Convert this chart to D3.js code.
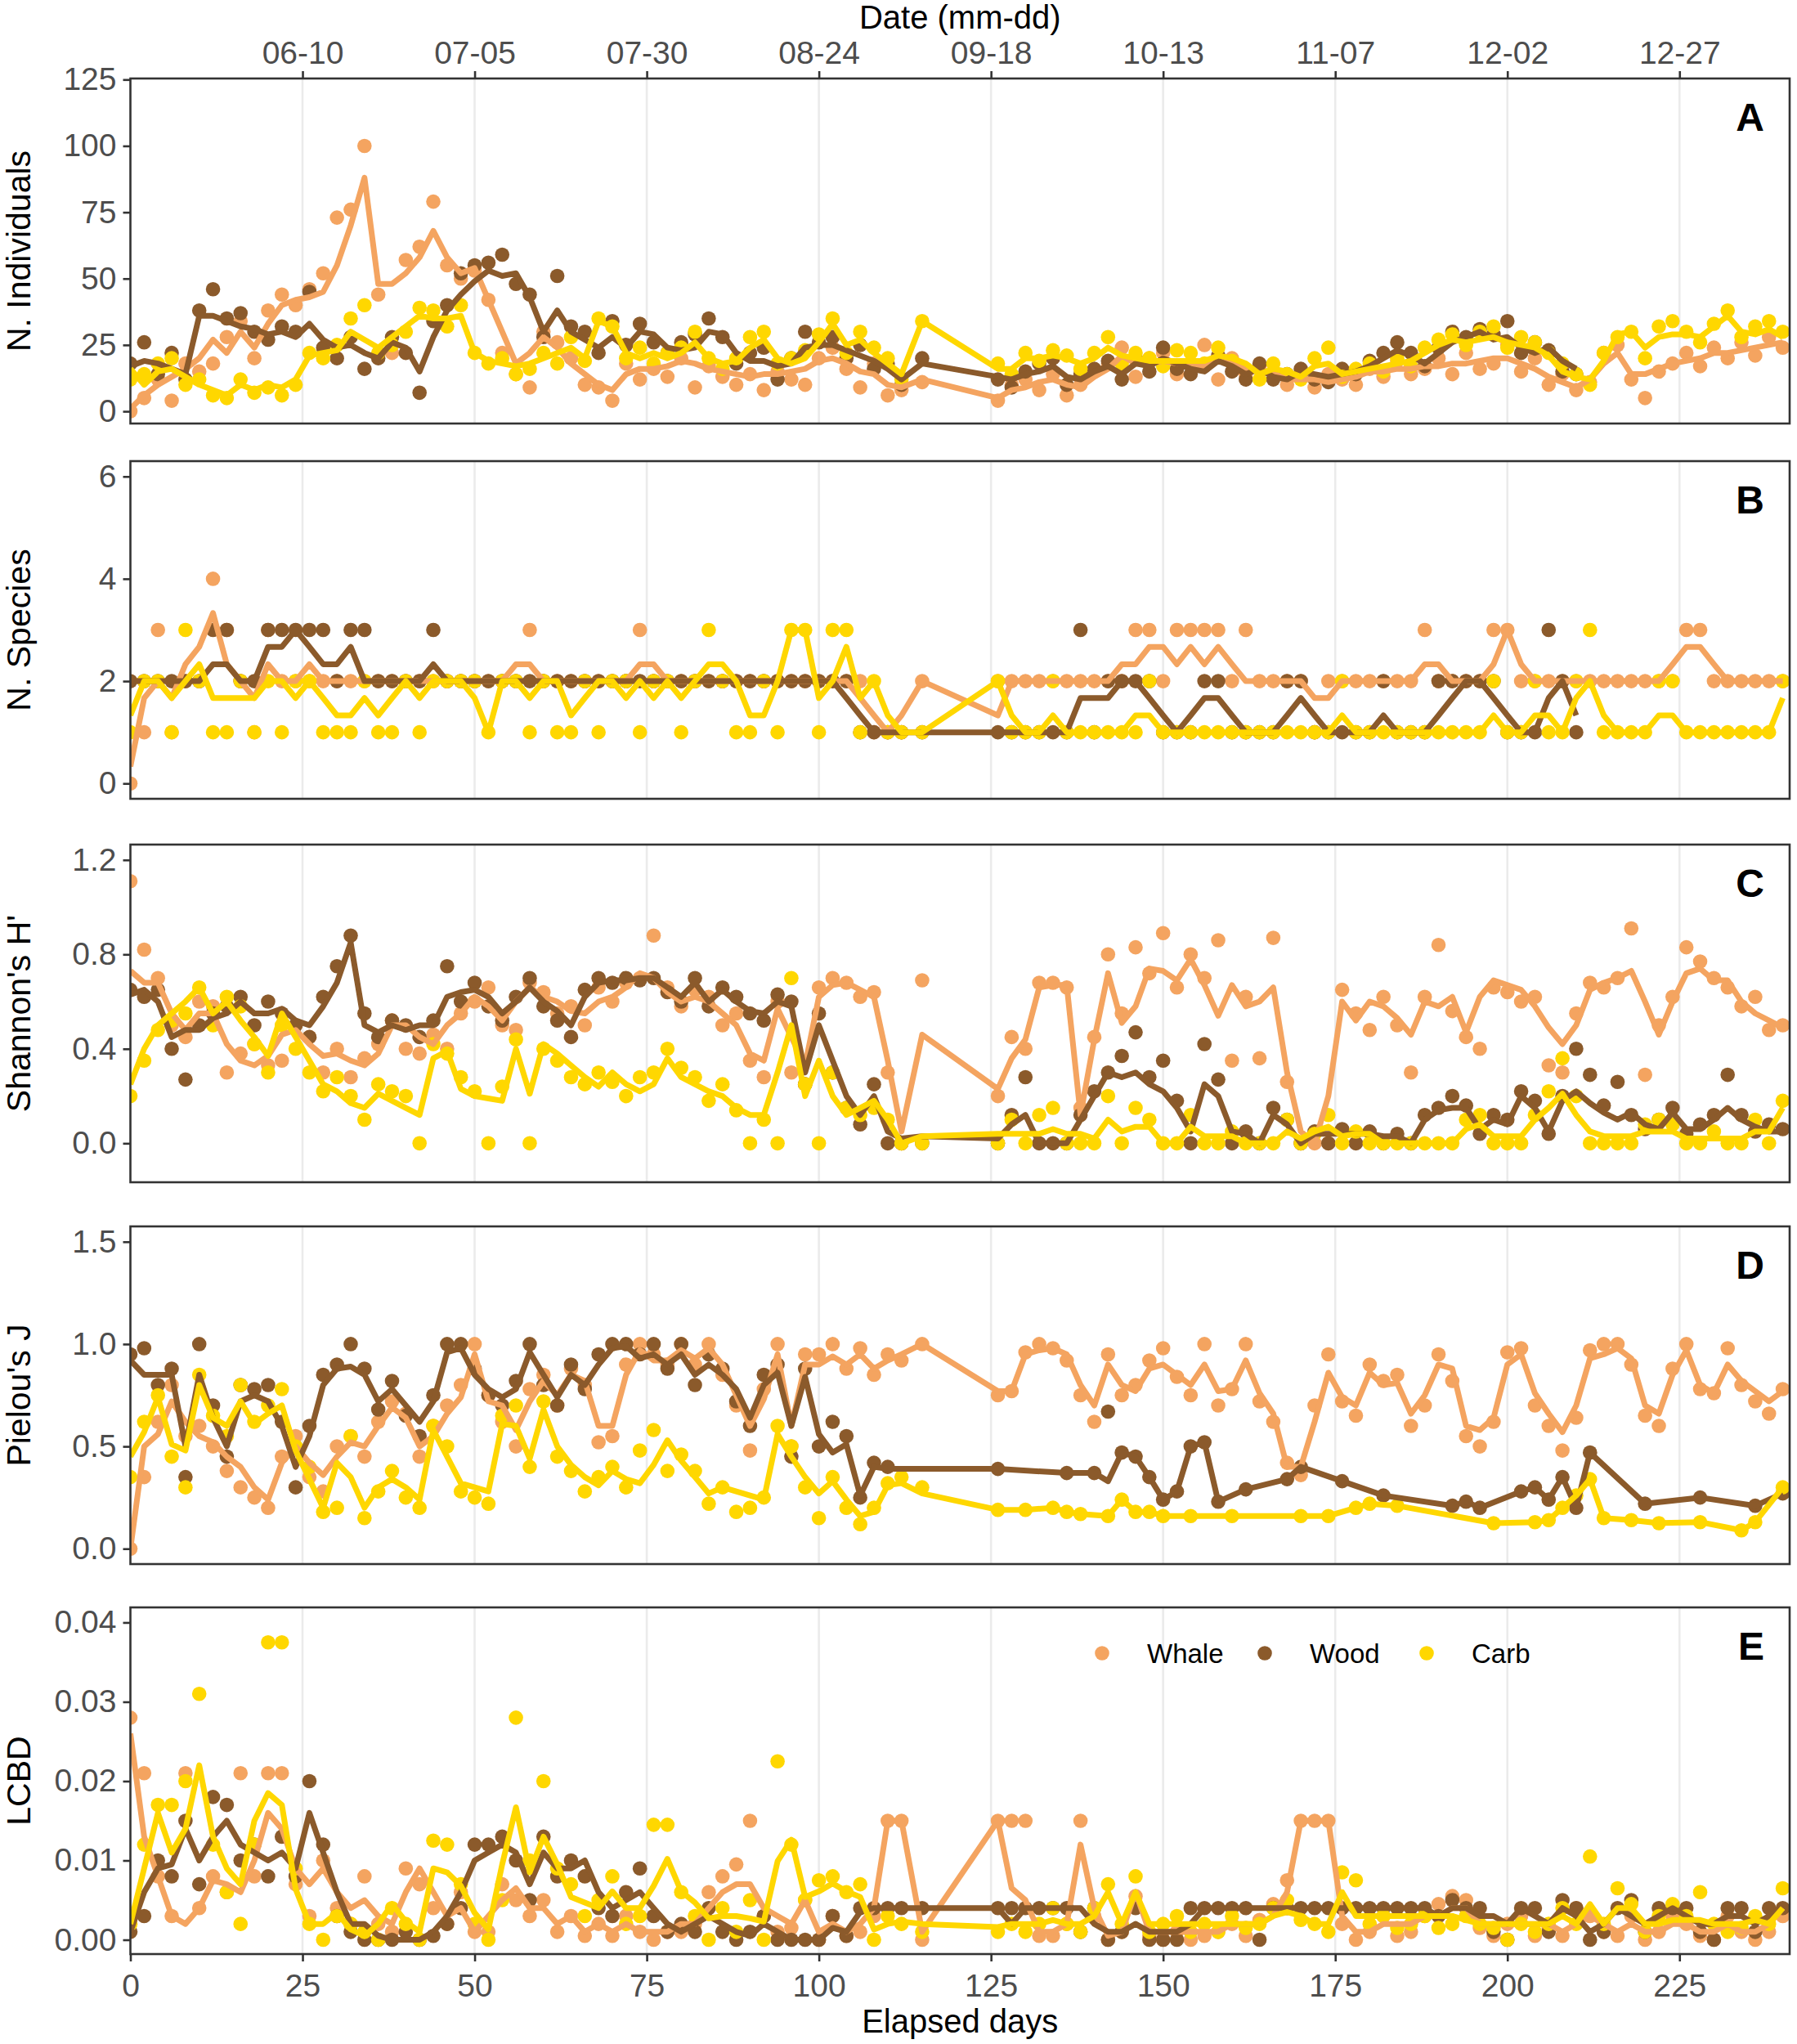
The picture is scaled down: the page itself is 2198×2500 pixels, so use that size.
<!DOCTYPE html>
<html>
<head>
<meta charset="utf-8">
<script src="https://cdn.jsdelivr.net/npm/d3@7"></script>
<style>
  body { margin: 0; background: #fff; }
  svg { display: block; }
  text { font-family: "Liberation Sans", Arial, Helvetica, sans-serif; }
</style>
</head>
<body>
<div id="chart"></div>
<script>
// sampling days (elapsed days since 05-16)
const days = [
  0,2,4,6,8,10,12,14,16,18,
  20,22,24,26,28,30,32,34,36,38,
  40,42,44,46,48,50,52,54,56,58,
  60,62,64,66,68,70,72,74,76,78,
  80,82,84,86,88,90,92,94,96,98,
  100,102,104,106,108,110,112,
  115,
  126,128,130,132,134,136,138,140,142,144,
  146,148,150,152,154,156,158,160,162,164,
  166,168,170,172,174,176,178,180,182,184,
  186,188,190,192,194,196,198,200,202,204,
  206,208,210,212,214,216,218,220,222,224,
  226,228,230,232,234,236,238,240];

const dayTicks = [0,25,50,75,100,125,150,175,200,225];
const dateTicks = [25,50,75,100,125,150,175,200,225];
const dateLabels = ["06-10","07-05","07-30","08-24","09-18","10-13","11-07","12-02","12-27"];
const groups = ["Whale","Wood","Carb"];
const groupColors = ["#F4A460","#8B5A2B","#FFD700"];
const _ = null;

// ---- A: number of individuals ----
const whaleIndiv = [
  0,5,12,4,18,15,18,28,34,20,
  38,44,40,46,52,73,76,100,44,22,
  57,62,79,55,50,53,42,22,14,9,
  30,26,20,10,9,4,18,12,16,13,
  20,9,17,13,10,14,8,15,12,10,
  20,24,16,9,18,6,8,
  11,
  4,10,12,8,14,6,10,15,18,24,
  13,20,22,14,18,25,12,20,14,17,
  15,10,13,9,14,12,10,16,13,19,
  14,16,20,14,22,16,18,25,15,20,
  10,14,8,11,22,25,12,5,15,18,
  22,17,24,20,26,21,28,24];
const whaleIndivLine = [
  1,6,10,13,16,20,27,22,30,24,
  33,40,42,43,45,55,70,88,48,48,
  52,58,68,58,52,54,42,30,18,22,
  28,24,18,14,10,8,14,16,16,17,
  19,18,16,15,14,13,14,14,15,16,
  19,20,18,15,14,10,9,
  12,
  5,8,9,11,12,10,9,13,16,21,
  18,18,19,18,17,17,19,18,16,15,
  14,12,12,12,11,12,13,15,15,16,
  16,17,17,18,18,19,20,20,18,16,
  13,11,9,12,18,22,14,14,16,18,
  19,20,22,22,23,24,25,26];
const woodIndiv = [
  18,26,14,22,12,38,46,35,37,30,
  27,32,30,45,24,20,28,16,20,28,
  22,7,34,40,52,55,56,59,48,44,
  28,51,32,30,22,34,25,33,26,22,
  26,29,35,28,18,22,24,12,20,30,
  26,28,20,25,16,18,10,
  20,
  12,9,15,18,20,10,14,16,19,12,
  20,15,24,16,14,17,21,15,12,18,
  12,14,16,12,11,16,14,19,22,26,
  22,17,24,30,28,31,29,34,22,26,
  23,15,14,_,_,_,_,_,_,_,
  _,_,_,_,_,_,_,_];
const woodIndivLine = [
  17,19,18,16,14,36,36,34,32,31,
  29,30,28,33,27,24,25,22,20,26,
  24,15,28,38,44,49,53,51,52,43,
  30,38,30,27,24,28,24,30,29,24,
  23,24,30,29,22,19,19,17,18,24,
  25,25,23,21,19,16,12,
  18,
  13,12,14,15,17,13,12,15,17,14,
  18,17,20,18,16,15,19,17,14,16,
  13,12,15,14,13,14,15,17,20,23,
  21,18,22,26,28,30,27,28,24,22,
  24,19,16,_,_,_,_,_,_,_,
  _,_,_,_,_,_,_,_];
const carbIndiv = [
  12,14,18,20,10,12,6,5,12,7,
  9,6,10,22,20,25,35,40,22,25,
  30,39,38,32,40,22,18,20,14,16,
  22,18,28,19,35,32,20,24,18,22,
  24,30,20,16,20,28,30,18,20,23,
  29,35,22,30,24,20,12,
  34,
  18,14,22,19,23,21,16,22,28,18,
  22,20,17,23,22,18,24,19,16,12,
  18,14,12,20,24,13,16,18,15,20,
  17,24,27,29,25,30,32,24,28,26,
  22,18,14,10,22,28,30,20,32,34,
  30,26,33,38,28,32,34,30];
const carbIndivLine = [
  16,10,15,16,13,10,8,6,10,8,
  10,9,12,21,22,23,30,27,24,28,
  32,36,35,35,36,22,19,18,17,18,
  20,22,24,20,34,32,22,20,22,20,
  22,26,20,18,19,24,27,20,18,20,
  26,33,25,27,22,18,14,
  34,
  16,16,20,20,21,20,18,20,24,21,
  20,19,19,19,19,19,21,20,18,14,
  16,15,13,17,18,14,15,16,17,18,
  19,22,25,27,26,27,28,26,25,24,
  21,15,13,12,19,29,30,24,28,29,
  29,28,32,36,30,29,31,28];

// ---- B: number of species ----
const whaleSpecies = [
  0,1,3,1,2,2,4,3,2,1,
  3,2,2,2,2,2,2,2,2,2,
  2,2,2,2,2,2,2,2,2,3,
  2,2,2,2,2,2,2,3,2,2,
  2,2,2,2,2,2,2,2,2,2,
  2,2,2,2,1,1,1,
  2,
  2,2,2,2,2,2,2,2,2,2,
  3,3,2,3,3,3,3,2,3,2,
  2,2,2,1,2,2,2,2,2,2,
  2,3,2,2,2,2,3,3,2,2,
  2,2,2,2,2,2,2,2,2,2,
  3,3,2,2,2,2,2,2];
const whaleSpeciesLine = [
  0.33,1.67,2,1.67,2.33,2.67,3.33,2.33,2,1.67,
  2.33,2,2,2.33,2,2,2,2,2,2,
  2,2,2,2,2,2,2,2,2.33,2.33,
  2,2,2,2,2,2,2,2.33,2.33,2,
  2,2,2,2,2,2,2,2,2,2,
  2,2,2,1.67,1.33,1,1.33,
  2,
  1.33,2,2,2,2,2,2,2,2,2.33,
  2.33,2.67,2.67,2.33,2.67,2.33,2.67,2.33,2,2,
  2,2,2,1.67,1.67,2,2,2,2,2,
  2,2.33,2.33,2,2,2,2.33,3,2.33,2,
  2,2,2,2,2,2,2,2,2,2.33,
  2.67,2.67,2.33,2,2,2,2,2];
const woodSpecies = [
  2,2,2,2,2,2,3,3,2,2,
  3,3,3,3,3,2,3,3,2,2,
  2,2,3,2,2,2,2,2,2,2,
  2,2,2,2,2,2,2,2,2,2,
  2,2,2,2,2,2,2,2,2,2,
  2,2,2,1,1,1,1,
  1,
  1,1,1,1,1,1,3,1,2,2,
  2,2,1,1,1,2,2,1,1,1,
  1,2,2,1,1,1,1,1,2,1,
  1,1,2,2,2,2,2,1,1,1,
  3,2,1,_,_,_,_,_,_,_,
  _,_,_,_,_,_,_,_];
const woodSpeciesLine = [
  2,2,2,2,2,2,2.33,2.33,2,2,
  2.67,2.67,3,2.67,2.33,2.33,2.67,2,2,2,
  2,2,2.33,2,2,2,2,2,2,2,
  2,2,2,2,2,2,2,2,2,2,
  2,2,2,2,2,2,2,2,2,2,
  2,2,1.67,1.33,1,1,1,
  1,
  1,1,1,1,1,1,1.67,1.67,1.67,2,
  2,1.67,1.33,1,1.33,1.67,1.67,1.33,1,1,
  1,1.33,1.67,1.33,1,1,1,1,1.33,1,
  1,1,1.33,1.67,2,2,1.67,1.33,1,1,
  1.67,2,1.33,_,_,_,_,_,_,_,
  _,_,_,_,_,_,_,_];
const carbSpecies = [
  1,2,2,1,3,2,1,1,2,1,
  2,1,2,2,1,1,1,2,1,1,
  2,1,2,2,2,2,1,2,2,1,
  2,1,1,2,1,2,2,1,2,2,
  1,2,3,2,1,1,2,1,3,3,
  1,3,3,1,2,1,1,
  1,
  2,1,1,1,2,1,1,1,1,1,
  1,2,1,1,1,1,1,1,1,1,
  1,1,1,1,1,2,1,1,1,1,
  1,1,1,1,1,1,2,1,1,2,
  1,1,2,3,1,1,1,1,2,2,
  1,1,1,1,1,1,1,2];
const carbSpeciesLine = [
  1.33,2,2,1.67,2,2.33,1.67,1.67,1.67,1.67,
  2,2,1.67,2,1.67,1.33,1.33,1.67,1.33,1.67,
  2,1.67,2,2,2,1.67,1,2,2,1.67,
  2,2,1.33,1.67,2,2,1.67,2,1.67,2,
  1.67,2,2.33,2.33,2,1.33,1.33,2,3,3,
  1.67,2,2.67,1.67,2,1.33,1,
  1,
  2,1.33,1,1,1.33,1,1,1,1,1,
  1.33,1.33,1,1,1,1,1,1,1,1,
  1,1,1,1,1,1.33,1,1,1,1,
  1,1,1,1,1,1,1.33,1,1,1.33,
  1.33,1,1.67,2,1.33,1,1,1,1.33,1.33,
  1,1,1,1,1,1,1,1.67];

// ---- C: Shannon's H' ----
const whaleShannon = [
  1.11,0.82,0.7,0.5,0.45,0.6,0.58,0.3,0.38,0.42,
  0.33,0.35,0.5,0.45,0.3,0.4,0.28,0.36,0.42,0.52,
  0.4,0.38,0.46,0.4,0.55,0.6,0.66,0.5,0.48,0.68,
  0.64,0.55,0.58,0.5,0.66,0.6,0.68,0.7,0.88,0.66,
  0.58,0.65,0.62,0.5,0.55,0.35,0.28,0.6,0.3,0.25,
  0.66,0.7,0.68,0.62,0.64,0.3,0,
  0.69,
  0.2,0.45,0.4,0.68,0.68,0.66,0.15,0.45,0.8,0.55,
  0.83,0.72,0.89,0.66,0.8,0.7,0.86,0.35,0.62,0.36,
  0.87,0.26,0,0,0,0.65,0.55,0.48,0.62,0.5,
  0.3,0.62,0.84,0.56,0.45,0.4,0.66,0.64,0.6,0.62,
  0.33,0.3,0.55,0.68,0.66,0.7,0.91,0.29,0.5,0.62,
  0.83,0.77,0.7,0.66,0.58,0.62,0.48,0.5];
const whaleShannonLine = [
  0.73,0.68,0.68,0.55,0.48,0.55,0.55,0.42,0.35,0.33,
  0.37,0.46,0.48,0.42,0.37,0.38,0.35,0.33,0.38,0.5,
  0.5,0.45,0.42,0.5,0.55,0.62,0.58,0.52,0.6,0.66,
  0.62,0.6,0.56,0.55,0.6,0.62,0.66,0.72,0.7,0.64,
  0.6,0.62,0.6,0.55,0.5,0.38,0.35,0.57,0.45,0.33,
  0.62,0.67,0.68,0.65,0.62,0.35,0.05,
  0.46,
  0.23,0.36,0.44,0.66,0.67,0.67,0.12,0.44,0.72,0.51,
  0.58,0.74,0.73,0.69,0.78,0.67,0.54,0.67,0.58,0.6,
  0.66,0.3,0.05,0,0.2,0.6,0.52,0.6,0.58,0.53,
  0.46,0.6,0.58,0.62,0.47,0.62,0.69,0.67,0.65,0.58,
  0.49,0.42,0.5,0.65,0.68,0.7,0.73,0.6,0.46,0.6,
  0.72,0.74,0.69,0.69,0.6,0.55,0.52,0.49];
const woodShannon = [
  0.65,0.62,0.65,0.4,0.27,0.5,0.55,0.58,0.62,0.5,
  0.6,0.55,0.5,0.45,0.62,0.75,0.88,0.55,0.45,0.52,
  0.5,0.45,0.52,0.75,0.6,0.68,0.58,0.52,0.62,0.7,
  0.58,0.52,0.45,0.65,0.7,0.68,0.7,0.69,0.7,0.64,
  0.6,0.7,0.58,0.66,0.62,0.55,0.52,0.63,0.6,0.25,
  0.55,0.3,0.15,0.08,0.25,0,0,
  0,
  0,0.12,0.28,0,0,0,0.12,0.22,0.3,0.37,
  0.47,0.28,0.35,0.18,0,0.42,0.27,0,0.05,0,
  0.15,0.1,0,0.05,0,0.06,0,0.05,0,0.04,
  0,0.12,0.15,0.2,0.16,0.04,0.12,0.1,0.22,0.18,
  0.04,0.2,0.4,0.29,0.16,0.26,0.12,0.06,0.1,0.15,
  0.04,0.08,0.12,0.29,0.12,0.05,0.08,0.06];
const woodShannonLine = [
  0.63,0.65,0.6,0.45,0.48,0.48,0.53,0.55,0.6,0.55,
  0.55,0.57,0.52,0.5,0.58,0.68,0.85,0.5,0.47,0.5,
  0.48,0.5,0.5,0.62,0.64,0.65,0.62,0.55,0.6,0.66,
  0.6,0.56,0.5,0.62,0.68,0.69,0.69,0.7,0.7,0.66,
  0.62,0.68,0.6,0.65,0.6,0.56,0.55,0.6,0.58,0.3,
  0.5,0.35,0.2,0.12,0.2,0.05,0.02,
  0.03,
  0.02,0.08,0.12,0,0,0,0.1,0.2,0.3,0.28,
  0.3,0.25,0.22,0.15,0.05,0.25,0.2,0.05,0.04,0,
  0.12,0.08,0,0.04,0.04,0.04,0.04,0.04,0.03,0.03,
  0,0.1,0.14,0.15,0.15,0.06,0.1,0.08,0.2,0.15,
  0.05,0.18,0.22,0.17,0.13,0.1,0.13,0.08,0.06,0.13,
  0.06,0.06,0.1,0.15,0.1,0.07,0.05,0.05];
const carbShannon = [
  0.2,0.35,0.48,0.52,0.55,0.66,0.5,0.62,0.58,0.42,
  0.3,0.5,0.4,0.3,0.22,0.28,0.2,0.1,0.25,0.22,
  0.2,0,0.42,0.38,0.28,0.22,0,0.24,0.44,0,
  0.4,0.35,0.28,0.25,0.3,0.26,0.2,0.28,0.3,0.4,
  0.32,0.28,0.18,0.25,0.14,0,0.1,0,0.7,0.25,
  0,0.3,0.15,0.12,0.15,0.1,0,
  0,
  0,0.1,0,0.12,0.15,0,0,0,0.2,0,
  0.15,0.1,0,0,0.12,0,0,0.05,0,0,
  0,0.1,0,0.04,0.12,0,0.05,0,0,0,
  0,0,0,0,0.1,0.12,0,0,0,0.12,
  0.22,0.36,0.2,0,0,0,0,0.08,0.1,0.08,
  0,0,0.05,0,0,0.1,0,0.18];
const carbShannonLine = [
  0.25,0.4,0.5,0.55,0.6,0.66,0.55,0.6,0.52,0.45,
  0.37,0.55,0.45,0.35,0.25,0.22,0.17,0.15,0.21,0.18,
  0.15,0.12,0.36,0.39,0.23,0.2,0.19,0.18,0.4,0.21,
  0.42,0.38,0.33,0.28,0.24,0.3,0.25,0.22,0.25,0.36,
  0.28,0.25,0.22,0.2,0.15,0.12,0.12,0.3,0.5,0.2,
  0.35,0.2,0.12,0.15,0.18,0.1,0,
  0.03,
  0.04,0.04,0.04,0.04,0.06,0.04,0.04,0.02,0.1,0.05,
  0.07,0.07,0,0,0.07,0.03,0.03,0.03,0,0,
  0,0.05,0.02,0.05,0.07,0.03,0.04,0.04,0,0,
  0,0,0,0,0.06,0.08,0.03,0.03,0.03,0.1,
  0.15,0.21,0.12,0.05,0.03,0.03,0.03,0.05,0.05,0.05,
  0.02,0.02,0.02,0.02,0.02,0.05,0.05,0.15];

// ---- D: Pielou's J ----
const whalePielou = [
  0,0.35,0.62,0.8,0.55,0.6,0.5,0.38,0.3,0.25,
  0.2,0.45,0.55,0.35,0.28,0.5,0.55,0.45,0.62,0.72,
  0.66,0.45,0.6,0.7,0.8,1,0.75,0.62,0.5,0.78,
  0.85,0.7,0.88,0.8,0.52,0.55,0.9,1,0.95,0.9,
  1,0.9,1,0.85,0.7,0.48,0.78,1,0.5,0.95,
  0.95,1,0.88,0.98,0.85,0.95,0.92,
  1,
  0.75,0.77,0.96,1,0.98,0.92,0.75,0.62,0.95,0.75,
  0.8,0.92,0.98,0.84,0.75,1,0.7,0.78,1,0.72,
  0.62,0.42,0.36,0.7,0.95,0.72,0.65,0.9,0.82,0.85,
  0.6,0.7,0.95,0.82,0.55,0.5,0.62,0.96,0.98,0.7,
  0.6,0.48,0.64,0.97,1,1,0.9,0.65,0.6,0.88,
  1,0.78,0.76,0.98,0.8,0.72,0.66,0.78];
const whalePielouLine = [
  0,0.5,0.56,0.72,0.62,0.55,0.52,0.45,0.4,0.3,
  0.24,0.42,0.5,0.42,0.36,0.45,0.52,0.5,0.6,0.69,
  0.64,0.5,0.55,0.66,0.74,0.95,0.72,0.7,0.58,0.72,
  0.82,0.75,0.85,0.82,0.6,0.6,0.85,0.97,0.92,0.92,
  0.97,0.93,0.98,0.9,0.75,0.6,0.73,0.95,0.6,0.9,
  0.9,0.94,0.9,0.95,0.88,0.92,0.95,
  1,
  0.77,0.77,0.95,0.97,0.98,0.95,0.8,0.7,0.9,0.8,
  0.77,0.88,0.9,0.85,0.8,0.9,0.77,0.78,0.92,0.76,
  0.66,0.4,0.4,0.62,0.86,0.74,0.7,0.86,0.8,0.81,
  0.66,0.75,0.9,0.88,0.6,0.58,0.64,0.9,0.95,0.76,
  0.66,0.57,0.7,0.93,0.95,0.98,0.93,0.7,0.66,0.85,
  0.97,0.8,0.76,0.9,0.82,0.77,0.72,0.77];
const woodPielou = [
  0.95,0.98,0.8,0.88,0.35,1,0.7,0.45,0.8,0.78,
  0.8,0.62,0.3,0.6,0.85,0.9,1,0.88,0.68,0.82,
  0.65,0.55,0.75,1,1,0.88,0.75,0.7,0.82,1,
  0.8,0.7,0.9,0.78,0.95,1,1,0.95,1,0.88,
  1,0.8,0.95,0.88,0.72,0.6,0.85,0.9,0.45,0.88,
  0.5,0.62,0.55,0.25,0.42,0.4,_,
  _,
  0.39,_,_,_,_,0.37,_,0.37,0.67,0.47,
  0.45,0.35,0.24,0.28,0.5,0.52,0.23,_,0.29,_,
  _,0.34,0.4,_,_,0.33,_,_,0.26,_,
  _,_,_,0.21,0.23,0.2,_,_,0.28,0.3,
  0.24,0.35,0.2,0.47,_,_,_,0.22,_,_,
  _,0.25,_,_,_,0.21,_,0.27];
const woodPielouLine = [
  0.92,0.85,0.85,0.85,0.5,0.85,0.64,0.5,0.72,0.75,
  0.72,0.6,0.4,0.55,0.8,0.88,0.89,0.85,0.72,0.78,
  0.7,0.62,0.72,0.96,0.98,0.85,0.78,0.74,0.78,0.96,
  0.85,0.74,0.85,0.8,0.9,0.98,0.99,0.93,0.95,0.9,
  0.95,0.85,0.9,0.85,0.78,0.64,0.8,0.86,0.6,0.84,
  0.56,0.47,0.51,0.26,0.4,0.39,_,
  _,
  0.39,_,_,_,_,0.37,_,0.37,0.33,0.47,
  0.45,0.35,0.24,0.28,0.5,0.52,0.23,_,0.29,_,
  _,0.34,0.4,_,_,0.33,_,_,0.26,_,
  _,_,_,0.21,0.23,0.2,_,_,0.28,0.3,
  0.24,0.35,0.2,0.47,_,_,_,0.22,_,_,
  _,0.25,_,_,_,0.21,_,0.27];
const carbPielou = [
  0.35,0.62,0.75,0.45,0.3,0.85,0.65,0.55,0.8,0.62,
  0.7,0.78,0.5,0.4,0.18,0.2,0.55,0.15,0.28,0.38,
  0.25,0.2,0.6,0.5,0.28,0.25,0.22,0.65,0.7,0.4,
  0.72,0.45,0.38,0.28,0.35,0.4,0.3,0.48,0.58,0.38,
  0.46,0.38,0.22,0.3,0.18,0.2,0.25,0.6,0.5,0.3,
  0.15,0.35,0.2,0.12,0.2,0.32,0.35,
  0.3,
  0.19,_,0.19,_,0.2,0.18,0.17,_,0.16,0.24,
  0.18,0.18,0.16,_,0.16,_,_,0.16,_,_,
  _,_,0.16,_,0.16,_,0.2,0.22,_,0.21,
  _,_,_,_,_,_,0.125,_,_,0.13,
  0.14,0.2,0.26,0.34,0.15,_,0.14,_,0.125,_,
  _,0.13,_,_,0.09,0.13,_,0.3];
const carbPielouLine = [
  0.45,0.57,0.74,0.51,0.48,0.8,0.64,0.6,0.72,0.61,
  0.66,0.7,0.48,0.34,0.2,0.42,0.35,0.2,0.3,0.34,
  0.3,0.24,0.58,0.45,0.32,0.3,0.28,0.61,0.6,0.44,
  0.68,0.5,0.41,0.35,0.31,0.38,0.34,0.32,0.41,0.53,
  0.43,0.35,0.27,0.3,0.28,0.26,0.24,0.56,0.45,0.35,
  0.27,0.33,0.24,0.16,0.18,0.31,0.32,
  0.27,
  0.19,_,0.19,_,0.2,0.18,0.17,_,0.16,0.24,
  0.18,0.18,0.16,_,0.16,_,_,0.16,_,_,
  _,_,0.16,_,0.16,_,0.2,0.22,_,0.21,
  _,_,_,_,_,_,0.125,_,_,0.13,
  0.14,0.2,0.26,0.34,0.15,_,0.14,_,0.125,_,
  _,0.13,_,_,0.09,0.13,_,0.3];

// ---- E: LCBD ----
const whaleLcbd = [
  0.028,0.021,0.008,0.003,0.021,0.004,0.008,0.006,0.021,0.008,
  0.021,0.021,0.007,0.003,0.01,0.004,0.002,0.008,0.002,0.001,
  0.009,0.007,0.004,0.002,0.006,0.001,0.001,0.007,0.005,0.003,
  0.005,0.001,0.003,0.0005,0.002,0.0005,0.003,0.001,0,0.001,
  0.001,0.002,0.006,0.008,0.0095,0.015,0.003,0.001,0.0015,0.005,
  0,0.003,0.0005,0.001,0.003,0.015,0.015,
  0,
  0.015,0.015,0.015,0.0005,0.0005,0.002,0.015,0.003,0,0.001,
  0.0055,0.0005,0,0.001,0,0.0005,0.001,0.002,0.0005,0.0025,
  0.0045,0.0075,0.015,0.015,0.015,0.002,0,0.001,0.003,0.0005,
  0.001,0.003,0.0045,0.0055,0.005,0.0015,0.0005,0.002,0.003,0.0005,
  0.0015,0.0005,0.004,0.003,0.001,0.0005,0.003,0,0.001,0.003,
  0.002,0.0005,0,0.003,0.001,0,0.001,0.003];
const whaleLcbdLine = [
  0.026,0.013,0.008,0.003,0.002,0.004,0.0075,0.007,0.006,0.01,
  0.016,0.014,0.009,0.007,0.009,0.006,0.004,0.005,0.003,0.002,
  0.006,0.009,0.006,0.003,0.004,0.001,0.003,0.005,0.0065,0.004,
  0.004,0.002,0.003,0.001,0.002,0.001,0.002,0.001,0.001,0.001,
  0.002,0.002,0.004,0.006,0.007,0.007,0.004,0.003,0.002,0.005,
  0.001,0.002,0.001,0.002,0.004,0.015,0.015,
  0.001,
  0.015,0.0065,0.005,0.001,0.001,0.002,0.012,0.004,0.0005,0.001,
  0.006,0.001,0.001,0.001,0.001,0.001,0.001,0.002,0.002,0.002,
  0.003,0.006,0.015,0.015,0.015,0.003,0.001,0.001,0.002,0.002,
  0.002,0.003,0.003,0.004,0.004,0.002,0.002,0.002,0.002,0.002,
  0.002,0.001,0.002,0.003,0.002,0.001,0.002,0.001,0.001,0.002,
  0.002,0.001,0.001,0.002,0.001,0.001,0.002,0.004];
const woodLcbd = [
  0.001,0.003,0.01,0.008,0.015,0.007,0.018,0.017,0.01,0.012,
  0.008,0.013,0.008,0.02,0.012,0.003,0.001,0,0,0,
  0.001,0,0.0005,0.002,0.004,0.012,0.012,0.013,0.01,0.005,
  0.013,0.008,0.01,0.008,0.004,0.003,0.006,0.009,0.003,0.001,
  0.002,0.001,0.004,0.001,0,0.001,0.003,0,0,0,
  0,0.003,0.0005,0.004,0.004,0.004,0.004,
  0.004,
  0.004,0.004,0.004,0.004,0.004,0.004,0.001,0.004,0,0.001,
  0.004,0,0,0,0.004,0.004,0.004,0.004,0.004,0,
  0.004,0.004,0.004,0.004,0.004,0.004,0.004,0.004,0.004,0.004,
  0.004,0.004,0.003,0.005,0.004,0.004,0.001,0,0.004,0.004,
  0.001,0.005,0.004,0,0.001,0.004,0.005,0.001,0.004,0.004,
  0.004,0.001,0,0.004,0.004,0.001,0.004,0.004];
const woodLcbdLine = [
  0.001,0.006,0.009,0.0095,0.014,0.01,0.013,0.015,0.012,0.011,
  0.01,0.011,0.009,0.016,0.011,0.006,0.002,0.002,0.0005,0,
  0,0,0.001,0.003,0.006,0.01,0.011,0.012,0.011,0.007,
  0.011,0.009,0.009,0.01,0.006,0.004,0.005,0.006,0.004,0.002,
  0.001,0.002,0.003,0.002,0.001,0.0005,0.002,0.001,0,0,
  0,0.0015,0.001,0.0035,0.004,0.004,0.004,
  0.004,
  0.004,0.002,0.004,0.004,0.004,0.004,0.004,0.002,0.001,0.001,
  0.002,0.001,0.001,0.001,0.002,0.004,0.004,0.004,0.004,0.004,
  0.004,0.004,0.004,0.004,0.004,0.004,0.004,0.004,0.004,0.004,
  0.004,0.004,0.003,0.004,0.004,0.003,0.003,0.002,0.004,0.003,
  0.002,0.004,0.003,0.001,0.002,0.004,0.003,0.002,0.003,0.004,
  0.003,0.002,0.002,0.003,0.003,0.002,0.003,0.004];
const carbLcbd = [
  0.002,0.012,0.017,0.017,0.02,0.031,0.012,0.006,0.002,0.012,
  0.0375,0.0375,0.009,0.002,0,0.003,0.002,0.001,0,0.004,
  0.002,0,0.0125,0.012,0.007,0.002,0,0.005,0.028,0.01,
  0.02,0.009,0.007,0.003,0.005,0.008,0.002,0.003,0.0145,0.0145,
  0.006,0.003,0,0.004,0.001,0.005,0,0.0225,0.012,0.005,
  0.0075,0.008,0.006,0.007,0,0.003,0.002,
  0.001,
  0.001,0.002,0.001,0.002,0.004,0.002,0.001,0.004,0.007,0.002,
  0.008,0.001,0.002,0.003,0.001,0.002,0.001,0.003,0.0015,0.002,
  0.004,0.005,0.0025,0.002,0.001,0.0085,0.0075,0.002,0.003,0.0015,
  0.002,0.003,0.0015,0.002,0.003,0.002,0.0015,0,0.002,0.001,
  0.002,0.004,0.002,0.0105,0.002,0.0065,0.0045,0.001,0.003,0.0045,
  0.003,0.006,0.002,0.001,0.0015,0.003,0.002,0.0065];
const carbLcbdLine = [
  0.002,0.009,0.016,0.011,0.014,0.022,0.013,0.009,0.007,0.015,
  0.0185,0.017,0.0064,0.002,0.002,0.0034,0.0013,0.0005,0.002,0.0045,
  0.0023,0.001,0.009,0.0085,0.0068,0.0034,0.0013,0.0095,0.0167,0.0085,
  0.013,0.0095,0.0054,0.0047,0.004,0.0061,0.004,0.004,0.0068,0.0102,
  0.0061,0.0047,0.0027,0.003,0.003,0.0027,0.0023,0.0099,0.0126,0.0054,
  0.0061,0.0071,0.0061,0.0054,0.0013,0.002,0.0023,
  0.002,
  0.0016,0.002,0.002,0.002,0.0025,0.002,0.002,0.003,0.006,0.002,
  0.006,0.002,0.002,0.002,0.002,0.002,0.002,0.002,0.002,0.002,
  0.003,0.0035,0.003,0.002,0.002,0.006,0.003,0.003,0.003,0.003,
  0.003,0.003,0.003,0.003,0.0025,0.002,0.002,0.002,0.002,0.002,
  0.002,0.003,0.002,0.0045,0.002,0.004,0.004,0.002,0.002,0.0025,
  0.0025,0.0025,0.002,0.002,0.002,0.0025,0.002,0.004];

// ---------------------------------------------------------------
const width = 2198;
const height = 2500;
const plotLeft = 159.5;
const plotRight = 2189;

const x = d3.scaleLinear().domain([0, 241]).range([plotLeft, plotRight]);

const panels = [
  {letter: "A", title: "N. Individuals", top: 96, bottom: 518, domain: [-4.6, 125.4],
   ticks: [0,25,50,75,100,125], fmt: d3.format("d"),
   pts: [whaleIndiv, woodIndiv, carbIndiv], lines: [whaleIndivLine, woodIndivLine, carbIndivLine]},
  {letter: "B", title: "N. Species", top: 564, bottom: 977, domain: [-0.3, 6.3],
   ticks: [0,2,4,6], fmt: d3.format("d"),
   pts: [whaleSpecies, woodSpecies, carbSpecies], lines: [whaleSpeciesLine, woodSpeciesLine, carbSpeciesLine]},
  {letter: "C", title: "Shannon's H'", top: 1033, bottom: 1446, domain: [-0.165, 1.265],
   ticks: [0,0.4,0.8,1.2], fmt: d3.format(".1f"),
   pts: [whaleShannon, woodShannon, carbShannon], lines: [whaleShannonLine, woodShannonLine, carbShannonLine]},
  {letter: "D", title: "Pielou's J", top: 1500, bottom: 1913, domain: [-0.075, 1.575],
   ticks: [0,0.5,1,1.5], fmt: d3.format(".1f"),
   pts: [whalePielou, woodPielou, carbPielou], lines: [whalePielouLine, woodPielouLine, carbPielouLine]},
  {letter: "E", title: "LCBD", top: 1966, bottom: 2390, domain: [-0.0018, 0.0419],
   ticks: [0,0.01,0.02,0.03,0.04], fmt: d3.format(".2f"),
   pts: [whaleLcbd, woodLcbd, carbLcbd], lines: [whaleLcbdLine, woodLcbdLine, carbLcbdLine]}
];

panels.forEach(p => [...p.pts, ...p.lines].forEach((a, i) => {
  if (a.length !== days.length) throw new Error(`panel ${p.letter} array ${i} has ${a.length} values`);
}));

const toPoints = vals => days.map((d, i) => ({d, v: vals[i]})).filter(o => o.v !== null);

const svg = d3.select("#chart").append("svg")
  .attr("width", width)
  .attr("height", height)
  .attr("viewBox", [0, 0, width, height]);

svg.append("rect").attr("width", width).attr("height", height).attr("fill", "#fff");

const styleAxis = g => {
  g.select(".domain").remove();
  g.selectAll(".tick line").attr("stroke", "#333333").attr("stroke-width", 2.6);
  g.selectAll(".tick text").attr("fill", "#4D4D4D").attr("font-size", 39)
    .attr("font-family", '"Liberation Sans", Arial, sans-serif');
};

panels.forEach((p, k) => {
  const y = d3.scaleLinear().domain(p.domain).range([p.bottom, p.top]);
  const g = svg.append("g");

  g.append("clipPath").attr("id", "clip" + k)
    .append("rect")
    .attr("x", plotLeft).attr("y", p.top)
    .attr("width", plotRight - plotLeft).attr("height", p.bottom - p.top);

  // vertical grid
  g.append("g").selectAll("line")
    .data(dayTicks.filter(d => d > 0))
    .join("line")
    .attr("x1", d => x(d)).attr("x2", d => x(d))
    .attr("y1", p.top).attr("y2", p.bottom)
    .attr("stroke", "#EBEBEB").attr("stroke-width", 2.6);

  const plot = g.append("g").attr("clip-path", `url(#clip${k})`);

  p.pts.forEach((vals, s) => {
    plot.append("g").selectAll("circle")
      .data(toPoints(vals))
      .join("circle")
      .attr("cx", o => x(o.d))
      .attr("cy", o => y(o.v))
      .attr("r", 8.8)
      .attr("fill", groupColors[s]);
  });

  const line = d3.line().x(o => x(o.d)).y(o => y(o.v));
  p.lines.forEach((vals, s) => {
    plot.append("path")
      .datum(toPoints(vals))
      .attr("fill", "none")
      .attr("stroke", groupColors[s])
      .attr("stroke-width", 7)
      .attr("stroke-linejoin", "round")
      .attr("d", line);
  });

  g.append("rect")
    .attr("x", plotLeft).attr("y", p.top)
    .attr("width", plotRight - plotLeft).attr("height", p.bottom - p.top)
    .attr("fill", "none").attr("stroke", "#333333").attr("stroke-width", 2.6);

  g.append("g")
    .attr("transform", `translate(${plotLeft},0)`)
    .call(d3.axisLeft(y).tickValues(p.ticks).tickFormat(p.fmt).tickSize(9).tickPadding(8))
    .call(styleAxis);

  g.append("text")
    .attr("transform", `translate(37,${(p.top + p.bottom) / 2}) rotate(-90)`)
    .attr("text-anchor", "middle")
    .attr("font-size", 41)
    .attr("fill", "#000")
    .text(p.title);

  g.append("text")
    .attr("x", 2158).attr("y", p.top + 64)
    .attr("text-anchor", "end")
    .attr("font-size", 48)
    .attr("font-weight", "bold")
    .attr("fill", "#000")
    .text(p.letter);

  if (k === 0) {
    g.append("g")
      .attr("transform", `translate(0,${p.top})`)
      .call(d3.axisTop(x).tickValues(dateTicks)
        .tickFormat((d, i) => dateLabels[i]).tickSize(9).tickPadding(9))
      .call(styleAxis);
    svg.append("text")
      .attr("x", (plotLeft + plotRight) / 2).attr("y", 35)
      .attr("text-anchor", "middle").attr("font-size", 40).attr("fill", "#000")
      .text("Date (mm-dd)");
  }

  if (k === panels.length - 1) {
    g.append("g")
      .attr("transform", `translate(0,${p.bottom})`)
      .call(d3.axisBottom(x).tickValues(dayTicks).tickFormat(d3.format("d")).tickSize(9).tickPadding(15))
      .call(styleAxis);
    svg.append("text")
      .attr("x", (plotLeft + plotRight) / 2).attr("y", 2486)
      .attr("text-anchor", "middle").attr("font-size", 40).attr("fill", "#000")
      .text("Elapsed days");

    // legend
    const legendX = [1348, 1547, 1745];
    const legend = g.append("g").attr("transform", "translate(0,2022)");
    groups.forEach((name, s) => {
      legend.append("circle")
        .attr("cx", legendX[s]).attr("cy", 0).attr("r", 8.8)
        .attr("fill", groupColors[s]);
      legend.append("text")
        .attr("x", legendX[s] + 55).attr("y", 0)
        .attr("dy", "0.36em")
        .attr("font-size", 33)
        .attr("fill", "#000")
        .text(name);
    });
  }
});
</script>
</body>
</html>
